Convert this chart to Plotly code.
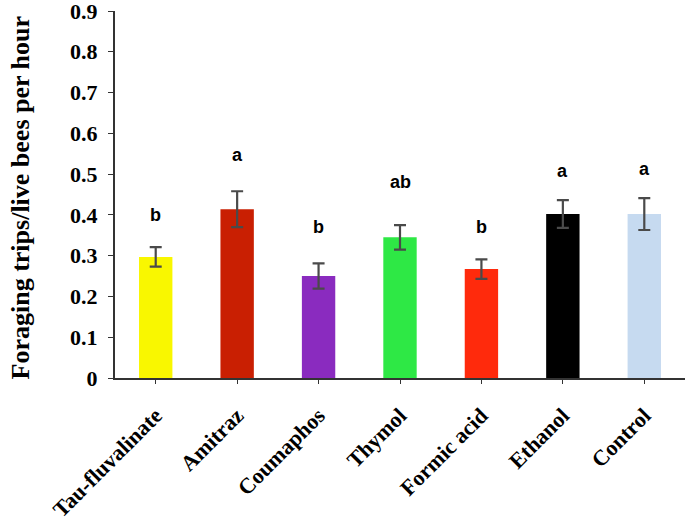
import plotly.graph_objects as go

# treatments and mean foraging trips / live bees per hour
treatments = ["Tau-fluvalinate", "Amitraz", "Coumaphos", "Thymol", "Formic acid", "Ethanol", "Control"]
means = [0.297, 0.414, 0.250, 0.345, 0.267, 0.402, 0.402]
errors = [0.024, 0.044, 0.031, 0.030, 0.024, 0.034, 0.039]
letters = ["b", "a", "b", "ab", "b", "a", "a"]
letter_y = [0.40, 0.547, 0.371, 0.48, 0.371, 0.508, 0.512]
bar_colors = ["#f9f700", "#c91f02", "#8a2bbf", "#2ee845", "#ff2a0c", "#000000", "#c6daf0"]

fig = go.Figure()

fig.add_trace(go.Bar(
    x=treatments,
    y=means,
    width=0.41,
    marker=dict(color=bar_colors, line=dict(width=0)),
    error_y=dict(type="data", array=errors, visible=True,
                 color="#4a4a4a", thickness=2.2, width=6),
    showlegend=False,
))

# significance letters above the bars
for t, lab, ly in zip(treatments, letters, letter_y):
    fig.add_annotation(x=t, y=ly, text=f"<b>{lab}</b>", showarrow=False,
                       font=dict(family="Liberation Sans", size=18, color="black"),
                       xanchor="center", yanchor="middle")

# y axis title as a rotated annotation
fig.add_annotation(xref="paper", yref="paper", x=-0.166, y=0.493,
                   xanchor="center", yanchor="middle",
                   text="<b>Foraging trips/live bees per hour</b>", textangle=-90,
                   showarrow=False,
                   font=dict(family="Liberation Serif", size=26, color="black"))

fig.update_layout(
    width=685, height=524,
    plot_bgcolor="white", paper_bgcolor="white",
    margin=dict(l=115, r=0, t=11, b=146),
    font=dict(family="Liberation Serif", color="black"),
)

fig.update_xaxes(
    showline=True, linecolor="#333333", linewidth=2,
    ticks="outside", ticklen=4, tickcolor="#333333",
    tickangle=-45, automargin=False, ticklabeloverflow="allow",
    ticklabelstandoff=10,
    tickfont=dict(family="Liberation Serif", size=22, color="black", weight="bold"),
    range=[-0.5, 6.5],
)
fig.update_yaxes(
    range=[0, 0.9], dtick=0.1, tickformat=".1~f",
    showline=True, linecolor="#333333", linewidth=2,
    ticks="outside", ticklen=5, tickcolor="#333333",
    showgrid=False, zeroline=False, automargin=False, ticklabeloverflow="allow",
    ticklabelstandoff=6,
    tickfont=dict(family="Liberation Serif", size=22, color="black", weight="bold"),
)

# drop the default page margin so the 685x524 figure fills the window
fig.write_html("out.html", config={"displayModeBar": False},
               post_script="document.body.style.margin='0';")
